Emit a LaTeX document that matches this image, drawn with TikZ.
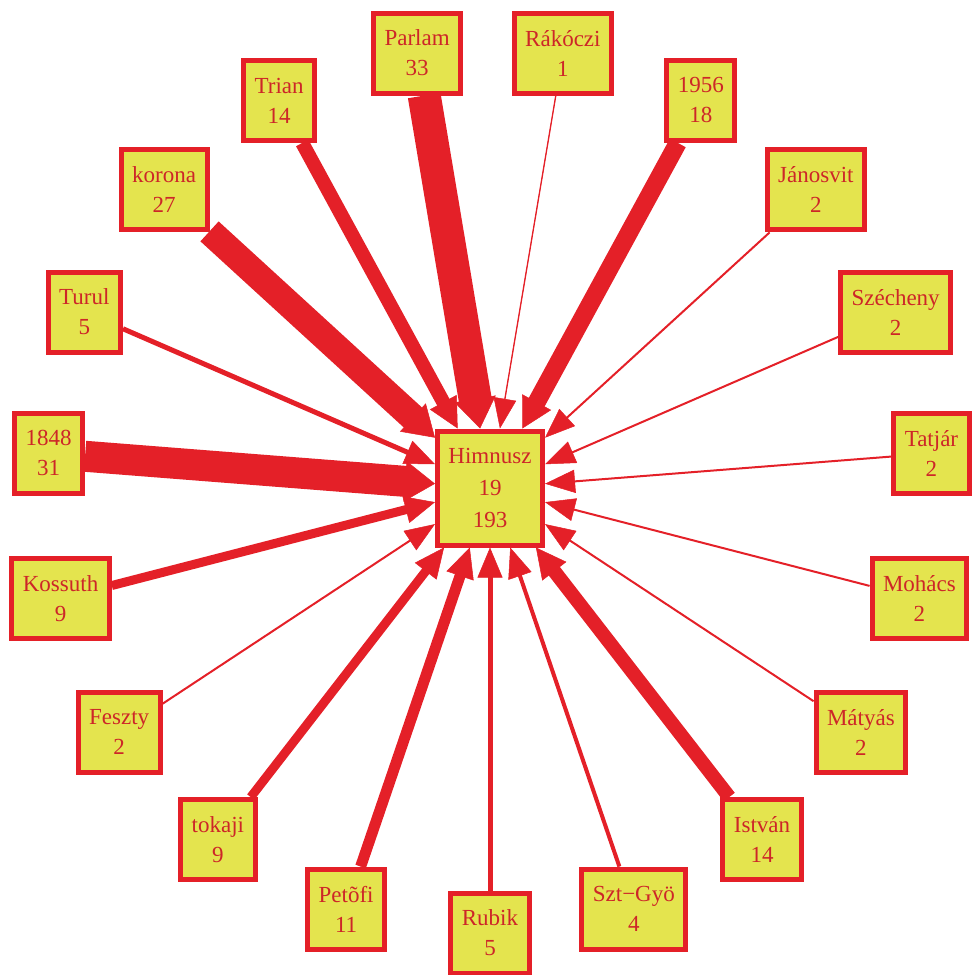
\documentclass[tikz,border=0pt]{standalone}
\usepackage{fontspec}
\setmainfont{Liberation Serif}
\usetikzlibrary{arrows.meta,backgrounds}
\definecolor{bred}{RGB}{228,32,40}
\definecolor{byel}{RGB}{228,228,78}
\definecolor{tred}{RGB}{205,38,40}
\begin{document}
\begin{tikzpicture}[x=1pt,y=1pt,
  box/.style={draw=bred, line width=5pt, fill=byel, text=tred, align=center,
    inner xsep=11pt, inner ysep=4pt, minimum height=80pt,
    font=\fontsize{23}{30}\selectfont},
  band/.style={draw=bred, shorten >=28pt},
  headline/.style={draw=bred, line width=0.5pt}
]
\useasboundingbox (0,-975) rectangle (972,0);
\node[box, minimum height=114pt, font=\fontsize{23}{32}\selectfont] (hub) at (490,-488) {Himnusz\\19\\193};
\foreach \k/\nm/\lab/\v in {0/rubik/Rubik/5, 1/sztgyo/Szt−Gyö/4, 2/istvan/István/14,
  3/matyas/Mátyás/2, 4/mohacs/Mohács/2, 5/tatjar/Tatjár/2, 6/szecheny/Szécheny/2,
  7/janosvit/Jánosvit/2, 8/n1956/1956/18, 9/rakoczi/Rákóczi/1, 10/parlam/Parlam/33,
  11/trian/Trian/14, 12/korona/korona/27, 13/turul/Turul/5, 14/n1848/1848/31,
  15/kossuth/Kossuth/9, 16/feszty/Feszty/2, 17/tokaji/tokaji/9, 18/petofi/Petõfi/11}{
  \pgfmathsetmacro\ang{-90+\k*360/19}
  \node[box] (\nm) at ([shift={(490pt,-490pt)}]\ang:443pt) {\lab\\\v};
}
\begin{scope}[on background layer]
\foreach \nm/\v in {rubik/5, sztgyo/4, istvan/14, matyas/2, mohacs/2, tatjar/2,
  szecheny/2, janosvit/2, n1956/18, rakoczi/1, parlam/33, trian/14, korona/27,
  turul/5, n1848/31, kossuth/9, feszty/2, tokaji/9, petofi/11}{
  \pgfmathsetmacro\w{max(\v,1.3)}
  \pgfmathsetmacro\hw{22+0.6*\w}
  \draw[band, line width=\w pt] (\nm) -- (hub);
  \draw[headline, -{Triangle[length=30pt,width=\hw pt]}] (\nm) -- (hub);
}
\end{scope}
\end{tikzpicture}
\end{document}
